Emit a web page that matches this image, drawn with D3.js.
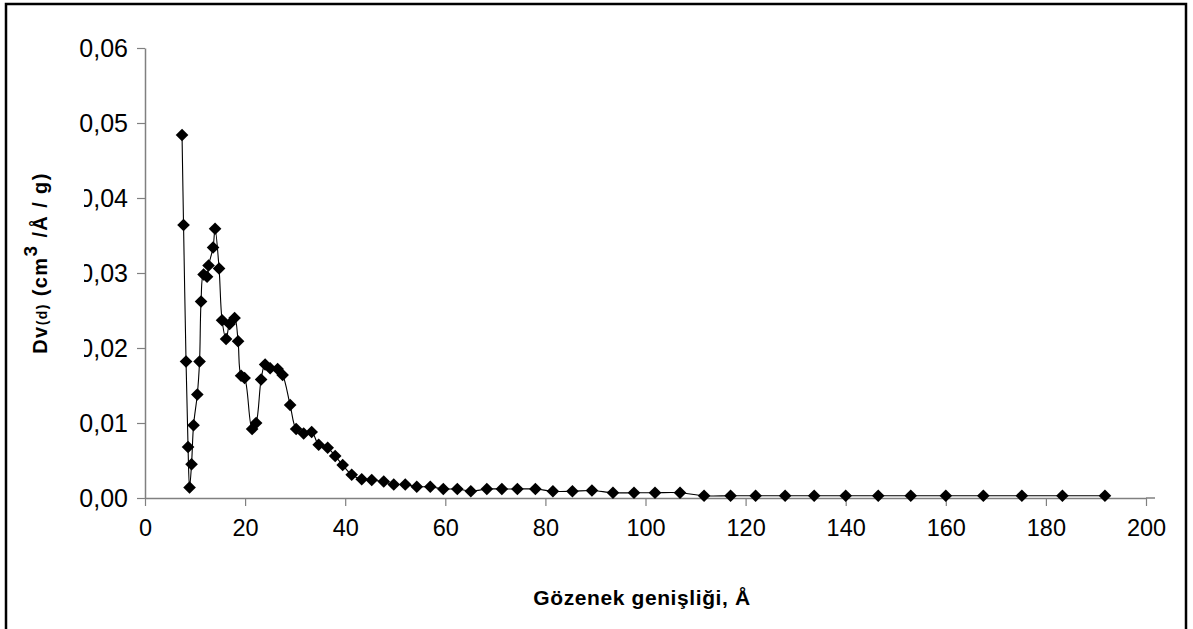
<!DOCTYPE html>
<html>
<head>
<meta charset="utf-8">
<script src="https://cdn.jsdelivr.net/npm/d3@7"></script>
<style>
  html, body { margin: 0; padding: 0; background: #fff; }
  svg { display: block; }
  text { font-family: "Liberation Sans", Arial, sans-serif; }
</style>
</head>
<body>
<script>
// ---- data ----
const poreWidth = [7.4, 7.7, 8.2, 8.6, 8.9, 9.3, 9.7, 10.45, 10.9, 11.2, 11.7, 12.4, 12.7, 13.6, 14.0, 14.8,
  15.4, 16.2, 16.9, 17.9, 18.6, 19.2, 19.9, 21.4, 22.2, 23.2, 24.0, 25.0, 26.5, 27.5, 29.0, 30.2,
  31.7, 33.3, 34.7, 36.5, 38.0, 39.5, 41.3, 43.3, 45.3, 47.7, 49.7, 52.0, 54.3, 57.0, 59.6, 62.4,
  65.1, 68.3, 71.3, 74.4, 78.0, 81.5, 85.4, 89.3, 93.5, 97.7, 101.9, 106.9, 111.7, 117.0, 122.0,
  127.9, 133.7, 140.0, 146.5, 153.0, 160.0, 167.5, 175.2, 183.3, 191.8];
const dvValues = [0.0484, 0.0364, 0.0182, 0.0068, 0.0014, 0.0045, 0.0097, 0.0138, 0.0182, 0.0262, 0.0298,
  0.0295, 0.0310, 0.0334, 0.0359, 0.0306, 0.0237, 0.0212, 0.0232, 0.0240, 0.0209, 0.0163, 0.0160,
  0.0092, 0.0100, 0.0158, 0.0178, 0.0173, 0.0172, 0.0164, 0.0124, 0.0092, 0.0086, 0.0088, 0.0071,
  0.0067, 0.0056, 0.0044, 0.0031, 0.0025, 0.0024, 0.0022, 0.0018, 0.0018, 0.0015, 0.0015, 0.0012,
  0.0012, 0.0009, 0.0012, 0.0012, 0.0012, 0.0012, 0.0009, 0.0009, 0.0010, 0.0007, 0.0007, 0.0007,
  0.0007, 0.0003, 0.0003, 0.0003, 0.0003, 0.0003, 0.0003, 0.0003, 0.0003, 0.0003, 0.0003, 0.0003,
  0.0003, 0.0003];
const xTicks = [0, 20, 40, 60, 80, 100, 120, 140, 160, 180, 200];
const yTicks = [0, 0.01, 0.02, 0.03, 0.04, 0.05, 0.06];
const xTitle = "Gözenek genişliği, Å";

const W = 1193, H = 629;
const svg = d3.select("body").append("svg").attr("width", W).attr("height", H);

// outer frame (bottom edge falls outside the picture)
svg.append("rect").attr("x", 6).attr("y", 4).attr("width", 1180).attr("height", 700)
  .attr("fill", "none").attr("stroke", "#000").attr("stroke-width", 2.5);

const x = d3.scaleLinear().domain([0, 200]).range([145, 1146]);
const y = d3.scaleLinear().domain([0, 0.06]).range([498, 48]);

const fmt = d => d.toFixed(2).replace(".", ",");

// y axis
const yAxis = svg.append("g").attr("transform", `translate(${x(0)},0)`)
  .call(d3.axisLeft(y).tickValues(yTicks).tickFormat(fmt).tickSize(8).tickSizeOuter(0).tickPadding(9));
// x axis
const xAxis = svg.append("g").attr("transform", `translate(0,${y(0)})`)
  .call(d3.axisBottom(x).tickValues(xTicks).tickFormat(d3.format("d")).tickSize(8).tickSizeOuter(0).tickPadding(13));
[yAxis, xAxis].forEach(g => {
  g.select(".domain").attr("stroke", "#808080").attr("stroke-width", 1.5);
  g.selectAll(".tick line").attr("stroke", "#808080").attr("stroke-width", 1.2);
  g.selectAll("text").attr("fill", "#000")
    .style("font-family", '"Liberation Sans", Arial, sans-serif');
});
yAxis.selectAll("text").style("font-size", "25px");
xAxis.selectAll("text").style("font-size", "23.5px");
// x axis line runs slightly past the last tick
xAxis.append("line").attr("x1", x(200)).attr("x2", x(200) + 9).attr("y1", 0).attr("y2", 0)
  .attr("stroke", "#808080").attr("stroke-width", 1.5);

// data
const pts = poreWidth.map((v, i) => [v, dvValues[i]]);
const line = d3.line().x(d => x(d[0])).y(d => y(d[1])).curve(d3.curveCatmullRom.alpha(0.5));
svg.append("path").attr("d", line(pts)).attr("fill", "none").attr("stroke", "#000").attr("stroke-width", 1.1);

const diamond = d3.symbol().type(d3.symbolSquare).size(80);
svg.append("g").selectAll("path").data(pts).join("path")
  .attr("d", diamond)
  .attr("transform", d => `translate(${x(d[0])},${y(d[1])}) rotate(45)`)
  .attr("fill", "#000");

// y title with white background (covers part of tick labels as in the original)
svg.append("rect").attr("x", 14).attr("y", 152).attr("width", 70).attr("height", 220).attr("fill", "#fff");
const yt = svg.append("text")
  .attr("transform", "translate(47,263) rotate(-90)")
  .attr("text-anchor", "middle")
  .style("font-weight", "bold").style("font-size", "20px").style("letter-spacing", "1.4px");
yt.append("tspan").text("Dv");
yt.append("tspan").style("font-size", "14px").text("(d)");
yt.append("tspan").text(" (cm");
yt.append("tspan").attr("dy", -10).style("font-size", "19px").text("3");
yt.append("tspan").attr("dy", 10).text(" /Å / g)");

// x title
svg.append("text").attr("x", 642).attr("y", 605).attr("text-anchor", "middle")
  .style("font-weight", "bold").style("font-size", "21px").style("letter-spacing", "0.6px").text(xTitle);
</script>
</body>
</html>
